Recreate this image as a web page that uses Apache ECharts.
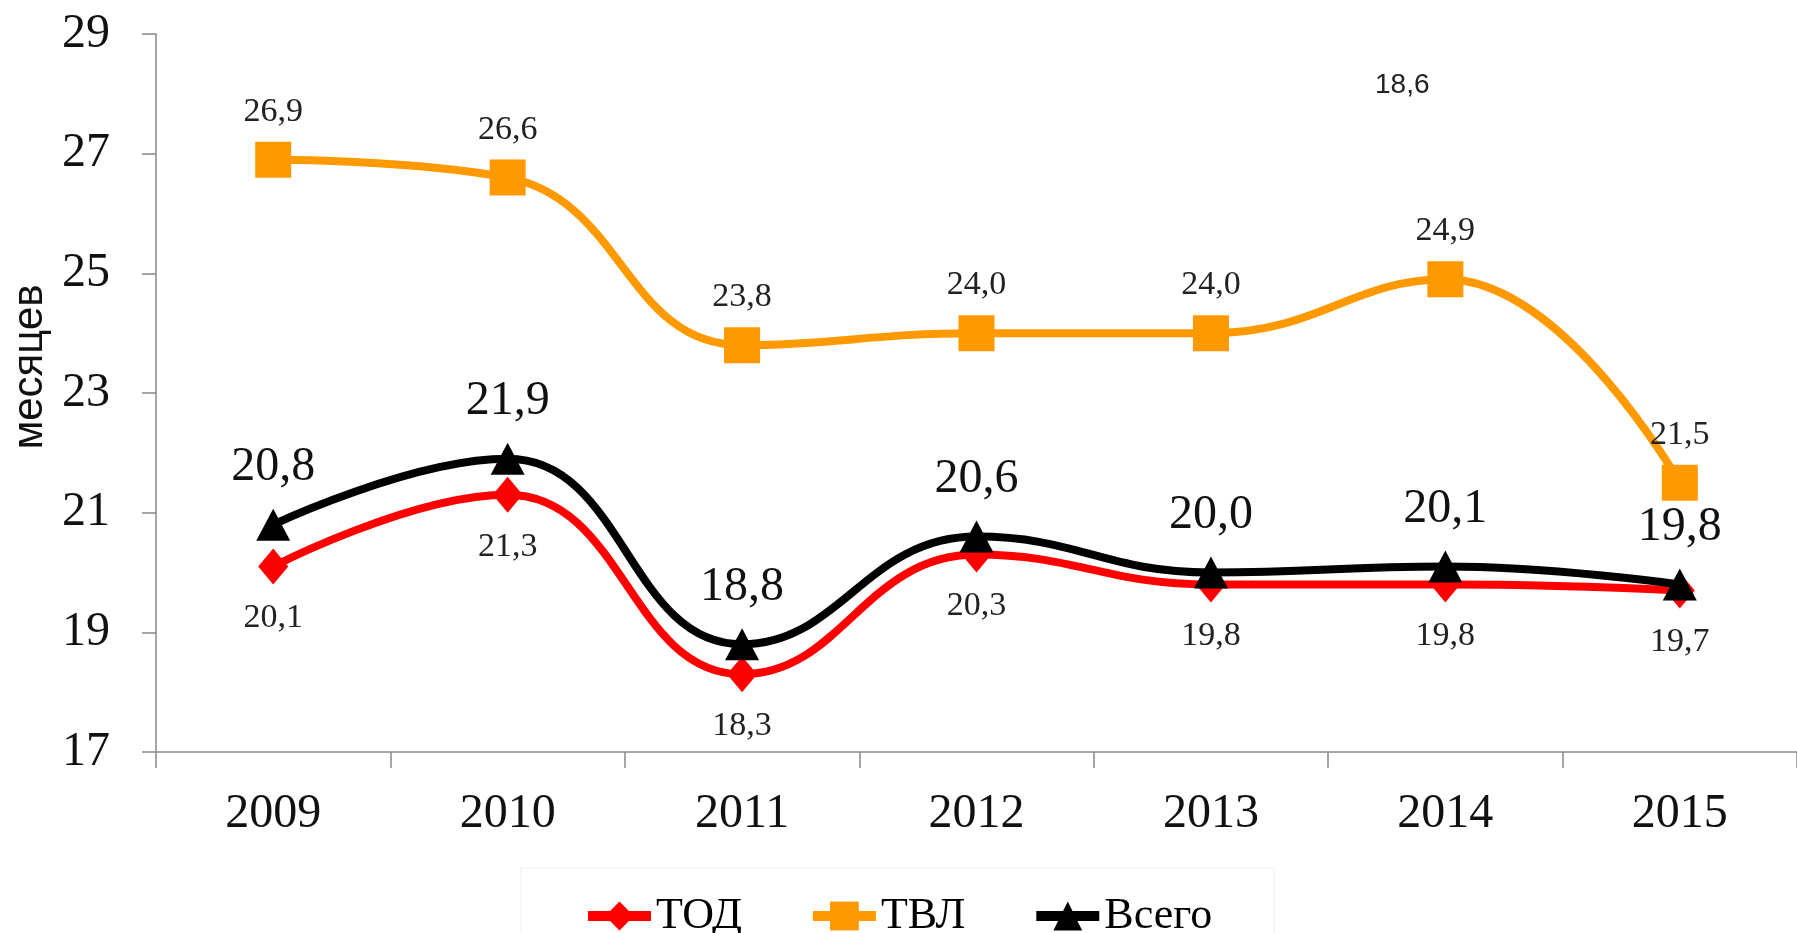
<!DOCTYPE html>
<html>
<head>
<meta charset="utf-8">
<style>
  html, body { margin: 0; padding: 0; background: #fff; }
  #chart { width: 1797px; height: 933px; }
</style>
<script src="https://cdn.jsdelivr.net/npm/echarts@6/dist/echarts.min.js"></script>
</head>
<body>
<div id="chart"></div>
<script>
var years = ['2009', '2010', '2011', '2012', '2013', '2014', '2015'];
var tod = [20.1, 21.3, 18.3, 20.3, 19.8, 19.8, 19.7];
var tvl = [26.9, 26.6, 23.8, 24.0, 24.0, 24.9, 21.5];
var total = [20.8, 21.9, 18.8, 20.6, 20.0, 20.1, 19.8];
var strayLabel = '18,6';

var serif = 'Liberation Serif';
var sans = 'Liberation Sans';

function comma(p) {
  return p.value.toFixed(1).replace('.', ',');
}

var chart = echarts.init(document.getElementById('chart'));

var option = {
  animation: false,
  grid: {
    left: 156,
    right: 0,
    top: 34,
    bottom: 181,
    outerBoundsMode: 'none'
  },
  legend: {
    left: 521,
    top: 868,
    padding: [26, 62, 20, 62],
    borderColor: '#eeeeee',
    borderWidth: 1,
    itemGap: 66,
    itemWidth: 63,
    itemHeight: 36,
    lineStyle: { width: 10 },
    textStyle: {
      fontFamily: serif,
      fontSize: 44,
      color: '#000'
    },
    data: ['ТОД', 'ТВЛ', 'Всего']
  },
  xAxis: {
    type: 'category',
    data: years,
    boundaryGap: true,
    axisLine: { lineStyle: { color: '#888', width: 1.5 } },
    axisTick: { show: true, length: 16, lineStyle: { color: '#888', width: 1.5 } },
    axisLabel: {
      fontFamily: serif,
      fontSize: 48,
      color: '#111',
      margin: 38
    }
  },
  yAxis: {
    type: 'value',
    min: 17,
    max: 29,
    interval: 2,
    name: 'месяцев',
    nameLocation: 'middle',
    nameRotate: 90,
    nameGap: 100,
    nameTextStyle: {
      fontFamily: sans,
      fontSize: 42,
      color: '#111',
      padding: [0, 0, 0, 52]
    },
    splitLine: { show: false },
    axisLine: { show: true, lineStyle: { color: '#888', width: 1.5 } },
    axisTick: { show: true, length: 14, lineStyle: { color: '#888', width: 1.5 } },
    axisLabel: {
      fontFamily: serif,
      fontSize: 48,
      color: '#111',
      margin: 46
    }
  },
  graphic: [
    {
      type: 'text',
      left: 1403 - 28,
      top: 84 - 13,
      style: {
        text: strayLabel,
        font: '28px "Liberation Sans"',
        fill: '#222'
      }
    }
  ],
  series: [
    {
      name: 'ТОД',
      type: 'line',
      smooth: 0.45,
      data: tod,
      z: 2,
      color: '#ff0000',
      lineStyle: { width: 8, color: '#ff0000' },
      symbol: 'diamond',
      symbolSize: [30, 36],
      label: {
        show: true,
        position: 'bottom',
        distance: 17,
        formatter: comma,
        fontFamily: serif,
        fontSize: 34,
        color: '#222'
      }
    },
    {
      name: 'ТВЛ',
      type: 'line',
      smooth: 0.45,
      data: tvl,
      z: 3,
      color: '#ff9900',
      lineStyle: { width: 8, color: '#ff9900' },
      symbol: 'rect',
      symbolSize: 36,
      label: {
        show: true,
        position: 'top',
        distance: 13,
        formatter: comma,
        fontFamily: serif,
        fontSize: 34,
        color: '#222'
      }
    },
    {
      name: 'Всего',
      type: 'line',
      smooth: 0.45,
      data: total,
      z: 4,
      color: '#000000',
      lineStyle: { width: 8, color: '#000000' },
      symbol: 'triangle',
      symbolSize: [34, 32],
      label: {
        show: true,
        position: 'top',
        distance: 17,
        formatter: comma,
        fontFamily: serif,
        fontSize: 48,
        color: '#111'
      }
    }
  ]
};

chart.setOption(option);
</script>
</body>
</html>
